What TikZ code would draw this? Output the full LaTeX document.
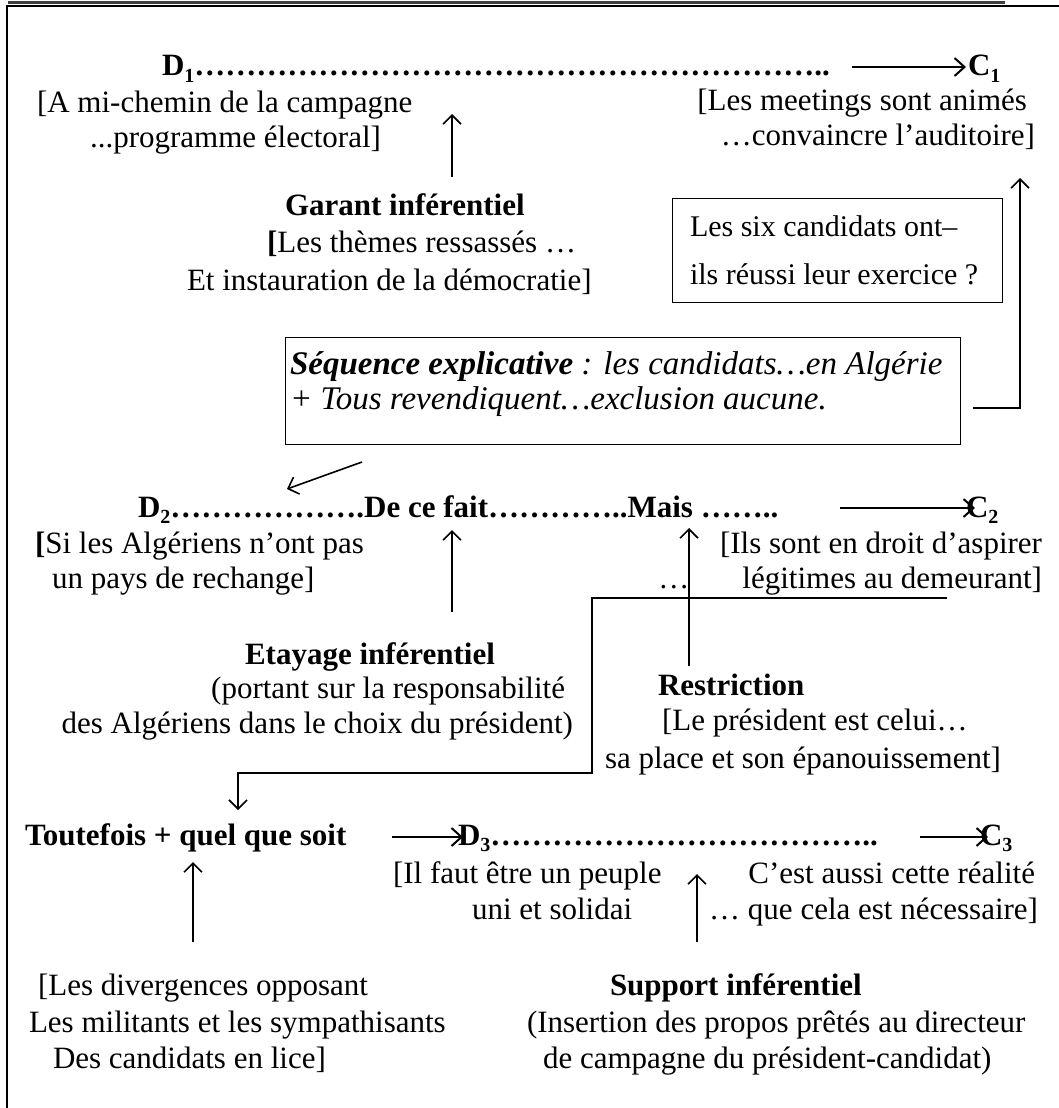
\documentclass[tikz,border=0pt]{standalone}
\usepackage{fontspec}
\setmainfont{Liberation Serif}
\usetikzlibrary{arrows.meta}
\newcommand\mysub[1]{\raisebox{-0.2em}{\fontsize{20}{20}\selectfont #1}}
\ExplSyntaxOn
\NewDocumentCommand\repell{m}{\prg_replicate:nn{#1}{…}}
\ExplSyntaxOff
\begin{document}
\begin{tikzpicture}[x=1pt,y=-1pt,
  txt/.style={inner sep=0pt, outer sep=0pt, font=\fontsize{31}{36}\selectfont},
  qtxt/.style={inner sep=0pt, outer sep=0pt, font=\fontsize{30}{34}\selectfont},
  stxt/.style={inner sep=0pt, outer sep=0pt, font=\fontsize{33}{38}\selectfont},
  arr/.style={line width=1.6pt, -{Straight Barb[length=9pt,width=18pt,line width=1.6pt]}},
  harr/.style={line width=2pt, -{Straight Barb[length=10pt,width=18pt,line width=2pt]}},
  boxed/.style={draw, line width=1.4pt, inner sep=0pt, anchor=north west},
]
\useasboundingbox (0,0) rectangle (1059,1108);
% frame
\coordinate (fg0) at (8,2.5); \coordinate (fg1) at (1005,2.5);
\coordinate (fb0) at (6,6.5); \coordinate (fb1) at (1059,6.5);
\coordinate (fl0) at (7,6); \coordinate (fl1) at (7,1108);
\draw[line width=2.5pt, black!75] (fg0) -- (fg1);
\draw[line width=2pt] (fb0) -- (fb1);
\draw[line width=2pt] (fl0) -- (fl1);

% row 1
\node[txt,anchor=base west] (d1) at (162,76) {\textbf{D\mysub{1}\repell{20}..}};
\node[txt,anchor=base west] (c1) at (968,76) {\textbf{C\mysub{1}}};
\coordinate (a1s) at (852,67); \coordinate (a1e) at (966,67);
\draw[harr] (a1s) -- (a1e);
\node[txt,anchor=base west] (am1) at (37,112) {[A mi-chemin de la campagne};
\node[txt,anchor=base west] (am2) at (90,147) {...programme électoral]};
\node[txt,anchor=base east] (lm1) at (1027,110) {[Les meetings sont animés};
\node[txt,anchor=base east] (lm2) at (1035,145) {…convaincre l’auditoire]};

\coordinate (ga0) at (452,177); \coordinate (ga1) at (452,114);
\draw[arr] (ga0) -- (ga1);
\node[txt,anchor=base west] (gt) at (285,215) {\textbf{Garant inférentiel}};
\node[txt,anchor=base west] (g1) at (267,252) {\textbf{[}Les thèmes ressassés …};
\node[txt,anchor=base west] (g2) at (187,290) {Et instauration de la démocratie]};

% question box
\node[boxed, minimum width=330pt, minimum height=104pt] (qbox) at (672,198) {};
\node[qtxt,anchor=base west] (q1) at (690,236) {Les six candidats ont–};
\node[qtxt,anchor=base west] (q2) at (690,284) {ils réussi leur exercice ?};

% sequence box
\node[boxed, minimum width=675pt, minimum height=107pt] (sbox) at (285,337) {};
\node[stxt,anchor=base west] (s1) at (290,374) {\textit{\textbf{Séquence explicative} : les candidats…en Algérie}};
\node[stxt,anchor=base west] (s2) at (290,409) {\textit{+ Tous revendiquent…exclusion aucune.}};
\coordinate (rc0) at (973,408); \coordinate (rc1) at (1020,408); \coordinate (rc2) at (1020,178);
\draw[arr] (rc0) -- (rc1) -- (rc2);
\coordinate (da0) at (362,462); \coordinate (da1) at (287,489);
\draw[arr] (da0) -- (da1);

% row 2
\node[txt,anchor=base west] (d2) at (138,517) {\textbf{D\mysub{2}\repell{6}.De ce fait\repell{4}..Mais \repell{2}..}};
\node[txt,anchor=base west] (c2) at (966,517) {\textbf{C\mysub{2}}};
\coordinate (a2s) at (840,508); \coordinate (a2e) at (975,508);
\draw[harr] (a2s) -- (a2e);
\node[txt,anchor=base west] (si1) at (35,553) {\textbf{[}Si les Algériens n’ont pas};
\node[txt,anchor=base west] (si2) at (52,588) {un pays de rechange]};
\node[txt,anchor=base east] (il1) at (1042,553) {[Ils sont en droit d’aspirer};
\node[txt,anchor=base east] (il2) at (1042,588) {…\hspace{53pt}légitimes au demeurant]};
\coordinate (de0) at (452,612); \coordinate (de1) at (452,530);
\draw[arr] (de0) -- (de1);
\coordinate (ma0) at (689,666); \coordinate (ma1) at (689,528);
\draw[arr] (ma0) -- (ma1);
\coordinate (L0) at (947,598); \coordinate (L1) at (592,598); \coordinate (L2) at (592,773);
\coordinate (L3) at (238,773); \coordinate (L4) at (238,810);
\draw[arr] (L0) -- (L1) -- (L2) -- (L3) -- (L4);

\node[txt,anchor=base west] (et) at (245,664) {\textbf{Etayage inférentiel}};
\node[txt,anchor=base east] (et1) at (565,698) {(portant sur la responsabilité};
\node[txt,anchor=base east] (et2) at (573,733) {des Algériens dans le choix du président)};
\node[txt,anchor=base west] (re) at (658,695) {\textbf{Restriction}};
\node[txt,anchor=base west] (re1) at (662,730) {[Le président est celui…};
\node[txt,anchor=base west] (re2) at (605,768) {sa place et son épanouissement]};

% row 3
\node[txt,anchor=base west] (tq) at (25,845) {\textbf{Toutefois + quel que soit}};
\node[txt,anchor=base west] (d3) at (458,845) {\textbf{D\mysub{3}\repell{12}..}};
\node[txt,anchor=base west] (c3) at (980,845) {\textbf{C\mysub{3}}};
\coordinate (a3s) at (392,837); \coordinate (a3e) at (463,837);
\draw[harr] (a3s) -- (a3e);
\coordinate (a4s) at (920,837); \coordinate (a4e) at (988,837);
\draw[harr] (a4s) -- (a4e);
\node[txt,anchor=base west] (if1) at (393,883) {[Il faut être un peuple};
\node[txt,anchor=base west] (if2) at (472,919) {uni et solidai};
\node[txt,anchor=base east] (ce1) at (1035,883) {C’est aussi cette réalité};
\node[txt,anchor=base east] (ce2) at (1038,919) {… que cela est nécessaire]};
\coordinate (su0) at (697,942); \coordinate (su1) at (697,874);
\draw[arr] (su0) -- (su1);
\coordinate (to0) at (193,942); \coordinate (to1) at (193,862);
\draw[arr] (to0) -- (to1);

\node[txt,anchor=base west] (dv1) at (38,995) {[Les divergences opposant};
\node[txt,anchor=base west] (dv2) at (29,1032) {Les militants et les sympathisants};
\node[txt,anchor=base west] (dv3) at (53,1068) {Des candidats en lice]};
\node[txt,anchor=base west] (sp) at (610,995) {\textbf{Support inférentiel}};
\node[txt,anchor=base west] (sp1) at (527,1032) {(Insertion des propos prêtés au directeur};
\node[txt,anchor=base west] (sp2) at (543,1068) {de campagne du président-candidat)};
\end{tikzpicture}
\end{document}
